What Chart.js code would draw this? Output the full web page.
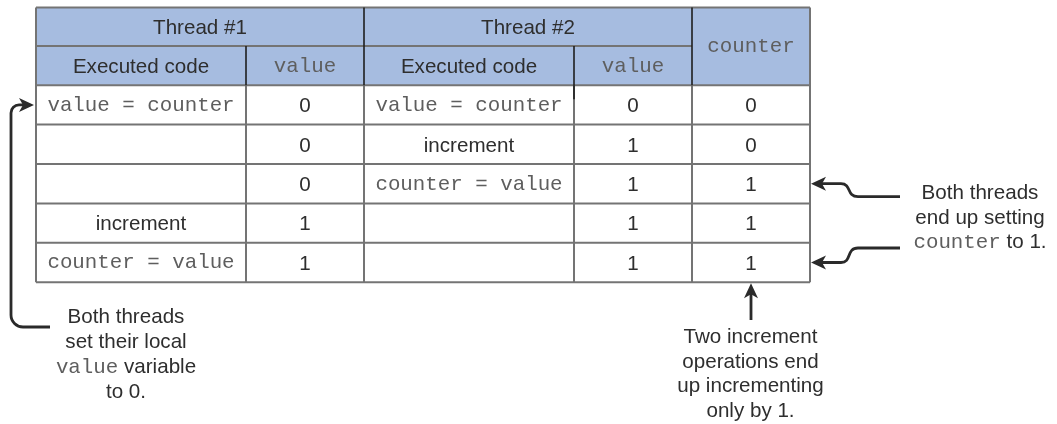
<!DOCTYPE html>
<html><head><meta charset="utf-8">
<script src="https://cdn.jsdelivr.net/npm/chart.js@4/dist/chart.umd.min.js"></script>
<style>html,body{margin:0;padding:0;background:#fff}#wrap{width:1057px;height:424px}</style>
</head><body><div id="wrap"><canvas id="c" width="1057" height="424"></canvas></div>
<script>
// ---- data ----
const threadHeaders = ['Thread #1', 'Thread #2'];
const subHeaders = ['Executed code', 'value', 'Executed code', 'value'];
const counterHeader = 'counter';
const thread1Code = ['value = counter', '', '', 'increment', 'counter = value'];
const thread1Value = [0, 0, 0, 1, 1];
const thread2Code = ['value = counter', 'increment', 'counter = value', '', ''];
const thread2Value = [0, 1, 1, 1, 1];
const counterValue = [0, 0, 1, 1, 1];
const noteLeft = [[['Both threads', 0]], [['set their local', 0]], [['value', 1], [' variable', 0]], [['to 0.', 0]]];
const noteRight = [[['Both threads', 0]], [['end up setting', 0]], [['counter', 1], [' to 1.', 0]]];
const noteBottom = [[['Two increment', 0]], [['operations end', 0]], [['up incrementing', 0]], [['only by 1.', 0]]];

// ---- layout (pixel units of the identity scales) ----
const colEdges = [36, 246, 364, 574, 692, 810];
const headTop = 7.5, headMid = 46, headBot = 85.2;
const rowH = 39.4;
const SANS = '"Liberation Sans", Arial, sans-serif';
const MONO = '"Liberation Mono", "Courier New", monospace';
const sansPx = 20.6, monoPx = 20.8;
const headerFill = '#a6bce0';
const gridCol = '#747474';
const darkCol = '#1e1e1e';
const textCol = '#2e2e2e';
const monoCol = '#5e5e5e';
const arrowCol = '#2a2a2a';

const tablePlugin = {
  id: 'table',
  afterDraw(chart) {
    const ctx = chart.ctx, xs = chart.scales.x, ys = chart.scales.y;
    const X = v => xs.getPixelForValue(v), Y = v => ys.getPixelForValue(v);
    const rowTop = r => headBot + r * rowH;
    const nRows = counterValue.length;
    const tableBot = rowTop(nRows);
    ctx.save();
    ctx.fillStyle = headerFill;
    ctx.fillRect(X(colEdges[0]), Y(headTop), X(colEdges[5]) - X(colEdges[0]), Y(headBot) - Y(headTop));
    ctx.strokeStyle = gridCol; ctx.lineWidth = 2;
    const line = (x1, y1, x2, y2) => { ctx.beginPath(); ctx.moveTo(X(x1), Y(y1)); ctx.lineTo(X(x2), Y(y2)); ctx.stroke(); };
    line(colEdges[0], headTop, colEdges[5], headTop);
    line(colEdges[0], headMid, colEdges[4], headMid);
    for (let r = 0; r <= nRows; r++) line(colEdges[0], rowTop(r), colEdges[5], rowTop(r));
    line(colEdges[0], headTop, colEdges[0], tableBot);
    line(colEdges[5], headTop, colEdges[5], tableBot);
    for (let c = 1; c < 5; c++) line(colEdges[c], headBot, colEdges[c], tableBot);
    ctx.strokeStyle = darkCol; ctx.lineWidth = 1.6;
    line(colEdges[1], headMid, colEdges[1], headBot);
    line(colEdges[2], headTop, colEdges[2], headBot);
    line(colEdges[3], headMid, colEdges[3], headBot + 14);
    line(colEdges[4], headTop, colEdges[4], headBot);

    const txt = (s, cx, cy) => {
      if (s === '' || s === null) return;
      s = String(s);
      const mono = s.includes('=') || s === 'value' || s === 'counter';
      ctx.font = (mono ? monoPx : sansPx) + 'px ' + (mono ? MONO : SANS);
      ctx.fillStyle = mono ? monoCol : textCol;
      ctx.textAlign = 'center'; ctx.textBaseline = 'alphabetic';
      const cap = mono ? 0.57 * monoPx : 0.716 * sansPx;
      ctx.fillText(s, X(cx), Y(cy) + cap / 2);
    };
    const midC = c => (colEdges[c] + colEdges[c + 1]) / 2;
    txt(threadHeaders[0], (colEdges[0] + colEdges[2]) / 2, (headTop + headMid) / 2);
    txt(threadHeaders[1], (colEdges[2] + colEdges[4]) / 2, (headTop + headMid) / 2);
    subHeaders.forEach((s, i) => txt(s, midC(i), (headMid + headBot) / 2));
    txt(counterHeader, midC(4), (headTop + headBot) / 2);
    const cols = [thread1Code, thread1Value, thread2Code, thread2Value, counterValue];
    for (let r = 0; r < nRows; r++) {
      const cy = rowTop(r) + rowH / 2;
      cols.forEach((arr, c) => txt(arr[r], midC(c), cy));
    }

    const note = (lines, cx, base0, step) => {
      lines.forEach((segs, i) => {
        let w = 0;
        segs.forEach(([t, m]) => { ctx.font = (m ? monoPx : sansPx) + 'px ' + (m ? MONO : SANS); w += ctx.measureText(t).width; });
        let x = X(cx) - w / 2;
        segs.forEach(([t, m]) => {
          ctx.font = (m ? monoPx : sansPx) + 'px ' + (m ? MONO : SANS);
          ctx.fillStyle = m ? monoCol : textCol;
          ctx.textAlign = 'left'; ctx.textBaseline = 'alphabetic';
          ctx.fillText(t, x, Y(base0 + i * step));
          x += ctx.measureText(t).width;
        });
      });
    };
    note(noteLeft, 126, 323.3, 25);
    note(noteRight, 980, 199.3, 24.5);
    note(noteBottom, 750.5, 343.3, 24.5);

    ctx.strokeStyle = arrowCol; ctx.fillStyle = arrowCol; ctx.lineWidth = 2.8;
    ctx.lineCap = 'butt'; ctx.lineJoin = 'round';
    const head = (tx, ty, dir) => {
      const L = 15, Wd = 7, notch = 4;
      ctx.save(); ctx.translate(X(tx), Y(ty)); ctx.rotate(dir);
      ctx.beginPath(); ctx.moveTo(0, 0); ctx.lineTo(-L, -Wd); ctx.lineTo(-L + notch, 0); ctx.lineTo(-L, Wd); ctx.closePath(); ctx.fill();
      ctx.restore();
    };
    const r1y = rowTop(0) + rowH / 2;
    ctx.beginPath();
    ctx.moveTo(X(50), Y(327));
    ctx.arcTo(X(11), Y(327), X(11), Y(300), 12);
    ctx.arcTo(X(11), Y(r1y), X(30), Y(r1y), 8);
    ctx.lineTo(X(24), Y(r1y));
    ctx.stroke();
    head(colEdges[0] - 2, r1y, 0);
    const tipX = colEdges[5] + 1;
    const r3y = rowTop(2) + rowH / 2, r5y = rowTop(4) + rowH / 2;
    ctx.beginPath();
    ctx.moveTo(X(tipX + 10), Y(r3y)); ctx.lineTo(X(841), Y(r3y));
    ctx.bezierCurveTo(X(852), Y(r3y), X(846), Y(196.7), X(858), Y(196.7));
    ctx.lineTo(X(900), Y(196.7)); ctx.stroke();
    head(tipX, r3y, Math.PI);
    ctx.beginPath();
    ctx.moveTo(X(tipX + 10), Y(r5y)); ctx.lineTo(X(841), Y(r5y));
    ctx.bezierCurveTo(X(852), Y(r5y), X(846), Y(248), X(858), Y(248));
    ctx.lineTo(X(900), Y(248)); ctx.stroke();
    head(tipX, r5y, Math.PI);
    const cxc = midC(4);
    ctx.beginPath(); ctx.moveTo(X(cxc), Y(320)); ctx.lineTo(X(cxc), Y(tableBot + 10)); ctx.stroke();
    head(cxc, tableBot + 1, -Math.PI / 2);
    ctx.restore();
  }
};

new Chart(document.getElementById('c'), {
  type: 'scatter',
  data: { datasets: [] },
  options: {
    responsive: false, animation: false, events: [],
    layout: { padding: 0 },
    plugins: { legend: { display: false }, tooltip: { enabled: false } },
    scales: {
      x: { type: 'linear', display: false, min: 0, max: 1057 },
      y: { type: 'linear', display: false, min: 0, max: 424, reverse: true }
    }
  },
  plugins: [tablePlugin]
});
</script></body></html>
